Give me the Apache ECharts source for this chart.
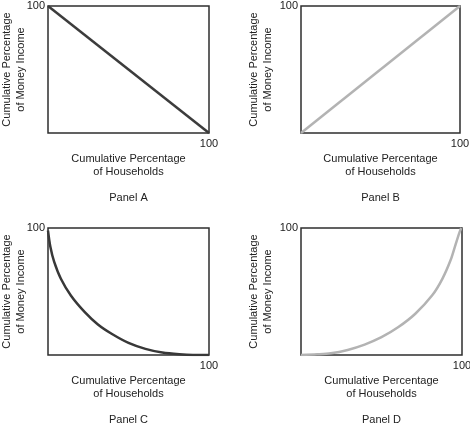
<!DOCTYPE html>
<html>
<head>
<meta charset="utf-8">
<script src="https://cdn.jsdelivr.net/npm/echarts@6/dist/echarts.min.js"></script>
<style>
  html, body { margin: 0; padding: 0; background: #fff; }
  #main { width: 470px; height: 426px; }
</style>
</head>
<body>
<div id="main"></div>
<script>
// 数据
var panelNames = ['Panel A', 'Panel B', 'Panel C', 'Panel D'];
var xTitle = 'Cumulative Percentage\nof Households';
var yTitle = 'Cumulative Percentage\nof Money Income';

var householdsA = [0, 100];
var incomeA = [100, 0];

var householdsB = [0, 100];
var incomeB = [0, 100];

var householdsC = [0, 1.5, 3.8, 8, 14.3, 22.7, 31, 39.5, 50, 60.5, 71, 81.5, 90, 100];
var incomeC = [98, 85, 73.5, 60, 46.6, 33.9, 24, 16.7, 9.5, 4.8, 1.9, 0.5, 0, 0];

var householdsD = [0, 10, 18.5, 29, 39.5, 50, 60.5, 71, 81.5, 87.8, 93, 96, 98.3, 99.5];
var incomeD = [0, 0.5, 1.3, 4, 8.2, 14, 22, 32.5, 47, 60, 75, 87, 96, 100];

function pairs(xs, ys) {
    var out = [];
    for (var i = 0; i < xs.length; i++) out.push([xs[i], ys[i]]);
    return out;
}

var chart = echarts.init(document.getElementById('main'));

var grids = [
    {left: 48, top: 6, width: 161, height: 127, yGap: 20},
    {left: 301, top: 6, width: 159, height: 127, yGap: 26},
    {left: 48, top: 228, width: 161, height: 127, yGap: 20},
    {left: 301, top: 228, width: 161, height: 127, yGap: 26}
];
var lineData = [
    pairs(householdsA, incomeA),
    pairs(householdsB, incomeB),
    pairs(householdsC, incomeC),
    pairs(householdsD, incomeD)
];
var lineColors = ['#3c3c3c', '#b3b3b3', '#383838', '#b3b3b3'];

var font = 'Liberation Sans, Arial, sans-serif';
var labelFmt = function (v) { return v === 100 ? '100' : ''; };

var option = {
    animation: false,
    backgroundColor: '#fff',
    title: [],
    grid: [],
    xAxis: [],
    yAxis: [],
    series: []
};

grids.forEach(function (g, i) {
    option.grid.push({
        left: g.left, top: g.top, width: g.width, height: g.height,
        show: true, borderColor: '#2e2e2e', borderWidth: 1.5,
        containLabel: false, outerBoundsMode: 'none'
    });
    option.xAxis.push({
        type: 'value', gridIndex: i, min: 0, max: 100, interval: 100,
        axisLine: {show: false}, axisTick: {show: false}, splitLine: {show: false},
        axisLabel: {formatter: labelFmt, color: '#222', fontSize: 11, fontFamily: font, margin: 5},
        name: xTitle, nameLocation: 'middle', nameGap: 19, nameMoveOverlap: false,
        nameTextStyle: {color: '#222', fontSize: 11, fontFamily: font, lineHeight: 13}
    });
    option.yAxis.push({
        type: 'value', gridIndex: i, min: 0, max: 100, interval: 100,
        axisLine: {show: false}, axisTick: {show: false}, splitLine: {show: false},
        axisLabel: {formatter: labelFmt, color: '#222', fontSize: 11, fontFamily: font, margin: 3},
        name: yTitle, nameLocation: 'middle', nameGap: g.yGap, nameMoveOverlap: false,
        nameTextStyle: {color: '#222', fontSize: 11, fontFamily: font, lineHeight: 14}
    });
    option.series.push({
        type: 'line', xAxisIndex: i, yAxisIndex: i,
        data: lineData[i], showSymbol: false,
        smooth: i >= 2 ? 0.3 : false,
        lineStyle: {color: lineColors[i], width: 2.5}
    });
    option.title.push({
        text: panelNames[i], padding: 0,
        left: g.left + g.width / 2, top: g.top + 186, textAlign: 'center',
        textStyle: {color: '#222', fontSize: 11, fontWeight: 'normal', fontFamily: font}
    });
});

chart.setOption(option);
</script>
</body>
</html>
